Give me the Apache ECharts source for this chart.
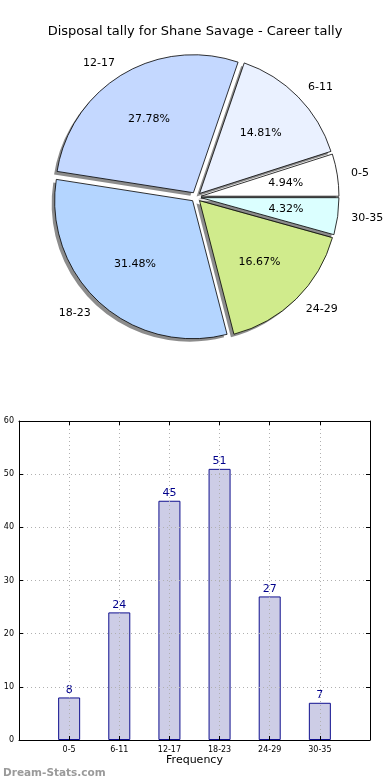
<!DOCTYPE html>
<html><head><meta charset="utf-8">
<script src="https://cdn.jsdelivr.net/npm/echarts@6/dist/echarts.min.js"></script>
<style>html,body{margin:0;padding:0;background:#fff}#c{width:390px;height:780px}</style>
</head><body><div id="c"></div>
<script>
const titleText = 'Disposal tally for Shane Savage - Career tally';
const categories = ['0-5', '6-11', '12-17', '18-23', '24-29', '30-35'];
const tally = [8, 24, 45, 51, 27, 7];
const sliceColors = ['#ffffff', '#eaf1ff', '#c4d8ff', '#b4d5ff', '#d0eb8c', '#dbffff'];
const yTicks = [0, 10, 20, 30, 40, 50, 60];
const xAxisName = 'Frequency';
const watermark = 'Dream-Stats.com';

const total = tally.reduce((a, b) => a + b, 0);
const R = 138, CX = 196, CY = 197, OFF = 5;
const FONT = 'DejaVu Sans';
const GRID_LINE = {color: '#b0b0b0', type: [1, 3], width: 1};

const chart = echarts.init(document.getElementById('c'), null, {renderer: 'canvas'});
const pieBase = {
  type: 'pie', center: [CX, CY], clockwise: false, startAngle: 0,
  selectedMode: 'multiple', selectedOffset: OFF, avoidLabelOverlap: false,
  animation: false, silent: true, emphasis: {disabled: true}
};
const axisCommon = {
  axisLine: {show: true, onZero: false, lineStyle: {color: '#000', width: 1}},
  axisTick: {show: true, inside: true, length: 4, lineStyle: {color: '#000'}}
};
const option = {
  animation: false,
  title: [
    {text: titleText, left: 'center', top: 20, textStyle: {fontFamily: FONT, fontSize: 13, fontWeight: 'normal', color: '#000'}},
    {text: watermark, left: -2, top: 763, textStyle: {fontFamily: FONT, fontSize: 10.5, fontWeight: 'bold', color: '#9a9a9a'}}
  ],
  grid: {left: 19, right: 20, top: 421, bottom: 40, containLabel: false},
  xAxis: [
    Object.assign({type: 'value', min: 0, max: 7, interval: 1, position: 'bottom', z: 5,
     name: xAxisName, nameLocation: 'middle', nameGap: 15,
     nameTextStyle: {fontFamily: FONT, fontSize: 11, color: '#000'},
     axisLabel: {fontFamily: FONT, fontSize: 8, color: '#000', margin: 6,
       formatter: v => categories[v - 1] || ''},
     splitLine: {show: true, lineStyle: GRID_LINE}}, axisCommon),
    Object.assign({type: 'value', min: 0, max: 7, interval: 1, position: 'top', z: 5,
     axisLabel: {show: false}, splitLine: {show: false}}, axisCommon)
  ],
  yAxis: [
    Object.assign({type: 'value', min: yTicks[0], max: yTicks[yTicks.length - 1], interval: 10, position: 'left', z: 5,
     axisLabel: {fontFamily: FONT, fontSize: 8, color: '#000', margin: 5},
     splitLine: {show: true, lineStyle: GRID_LINE}}, axisCommon),
    Object.assign({type: 'value', min: yTicks[0], max: yTicks[yTicks.length - 1], interval: 10, position: 'right', z: 5,
     axisLabel: {show: false}, splitLine: {show: false}}, axisCommon)
  ],
  series: [
    Object.assign({}, pieBase, {
      radius: [0, R], z: 2,
      data: categories.map((c, i) => ({name: c, value: tally[i], selected: true, itemStyle: {color: sliceColors[i]}})),
      itemStyle: {borderWidth: 0, shadowColor: 'rgba(0,0,0,0.45)', shadowBlur: 0, shadowOffsetX: -3, shadowOffsetY: 3},
      select: {itemStyle: {borderWidth: 0}},
      label: {show: true, position: 'outside', distanceToLabelLine: 0, fontFamily: FONT, fontSize: 11, color: '#000', formatter: '{b}'},
      labelLine: {show: false, length: 0.1 * R, length2: 0}
    }),
    Object.assign({}, pieBase, {
      radius: [0, R], z: 3,
      data: categories.map((c, i) => ({name: c, value: tally[i], selected: true})),
      itemStyle: {color: 'rgba(0,0,0,0)', borderColor: '#000', borderWidth: 0.8},
      select: {itemStyle: {color: 'rgba(0,0,0,0)', borderColor: '#000', borderWidth: 0.8}},
      label: {show: false}, labelLine: {show: false}
    }),
    Object.assign({}, pieBase, {
      radius: [0.2 * R, R], z: 4,
      data: categories.map((c, i) => ({name: c, value: tally[i], selected: true})),
      itemStyle: {color: 'rgba(0,0,0,0)', borderWidth: 0},
      select: {itemStyle: {color: 'rgba(0,0,0,0)', borderWidth: 0}},
      label: {show: true, position: 'inside', fontFamily: FONT, fontSize: 11, color: '#000',
        formatter: p => (p.value / total * 100).toFixed(2) + '%'},
      labelLine: {show: false}
    }),
    {
      type: 'bar', xAxisIndex: 0, yAxisIndex: 0, barWidth: 22, silent: true, z: 2,
      data: categories.map((c, i) => [i + 1, tally[i]]),
      itemStyle: {color: '#cdcde6', borderColor: '#10108f', borderWidth: 1},
      label: {show: true, position: 'top', distance: 2, fontFamily: FONT, fontSize: 11, color: '#00008b'}
    }
  ]
};
chart.setOption(option);
</script></body></html>
